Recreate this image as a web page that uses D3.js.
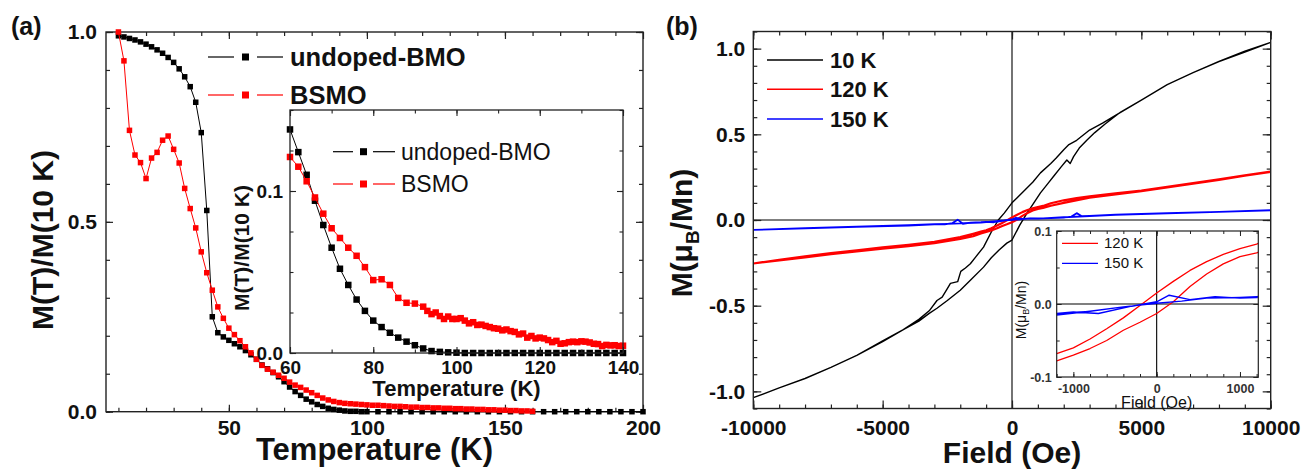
<!DOCTYPE html>
<html>
<head>
<meta charset="utf-8">
<script src="https://cdn.jsdelivr.net/npm/d3@7"></script>
<style>
  body { margin: 0; background: #fff; }
  svg { display: block; }
</style>
</head>
<body>
<svg id="main-svg"></svg>
<script>
// ---- DATA: panel (a), main plot ----
const tempBMO = [10, 12, 14, 16, 18, 20, 22, 24, 26, 28, 30, 32, 34, 36, 38, 40, 42, 44, 46, 48, 50, 52, 54, 56, 58, 60,
  62, 64, 66, 68, 70, 72, 74, 76, 78, 80, 82, 84, 86, 88, 90, 92, 94, 96, 98, 100,
  104, 108, 112, 116, 120, 124, 128, 132, 136, 140, 144, 148, 152, 156, 160, 164, 168, 172, 176, 180, 184, 188, 192, 196, 200]
const magBMO = [0.99, 0.987, 0.983, 0.979, 0.974, 0.968, 0.961, 0.953, 0.944, 0.933, 0.92, 0.903, 0.882, 0.856, 0.815, 0.735, 0.53, 0.25, 0.208, 0.197, 0.188, 0.179, 0.171, 0.161, 0.15, 0.138,
  0.123, 0.113, 0.103, 0.092, 0.079, 0.065, 0.053, 0.043, 0.033, 0.026, 0.019, 0.014, 0.009, 0.006, 0.004, 0.002, 0.001, 0.001, 0, 0,
  0, 0, 0, 0, 0, 0, 0, 0, 0, 0, 0, 0, 0, 0, 0, 0, 0, 0, 0, 0, 0, 0, 0, 0, 0]
const tempBSMO = [10, 12, 14, 16, 18, 20, 22, 24, 26, 28, 30, 32, 34, 36, 38, 40, 42, 44, 46, 48, 50, 52, 54, 56, 58, 60,
  62, 64, 66, 68, 70, 72, 74, 76, 78, 80, 82, 84, 86, 88, 90, 92, 94, 96, 98, 100, 102, 104, 106, 108, 110,
  112, 114, 116, 118, 120, 122, 124, 126, 128, 130, 132, 134, 136, 138, 140, 142, 144, 146, 148, 150, 152, 154, 156, 158, 160]
const magBSMO = [1.0, 0.924, 0.741, 0.676, 0.656, 0.614, 0.668, 0.683, 0.715, 0.726, 0.691, 0.655, 0.588, 0.535, 0.484, 0.421, 0.366, 0.32, 0.276, 0.246, 0.22, 0.203, 0.187, 0.171, 0.155, 0.138,
  0.122, 0.112, 0.104, 0.096, 0.088, 0.078, 0.07, 0.064, 0.057, 0.05, 0.043, 0.036, 0.031, 0.027, 0.024, 0.022, 0.021, 0.02, 0.019, 0.018, 0.017, 0.017, 0.016, 0.015, 0.014,
  0.014, 0.013, 0.012, 0.012, 0.011, 0.011, 0.010, 0.010, 0.009, 0.009, 0.008, 0.008, 0.007, 0.007, 0.006, 0.006, 0.005, 0.005, 0.004, 0.004, 0.003, 0.003, 0.002, 0.002, 0.001]

// ---- DATA: panel (a), inset ----
const insetTempBMO = [60, 62, 64, 66, 68, 70, 72, 74, 76, 78, 80, 82, 84, 86, 88, 90, 92, 94, 96, 98, 100,
  102, 104, 106, 108, 110, 112, 114, 116, 118, 120, 122, 124, 126, 128, 130, 132, 134, 136, 138, 140]
const insetMagBMO = [0.138, 0.124, 0.11, 0.094, 0.079, 0.065, 0.052, 0.042, 0.033, 0.026, 0.02, 0.016, 0.0125, 0.0095, 0.007, 0.0048, 0.0028, 0.0012, 0.0007, 0.0004, 0.0002,
  0, 0, 0, 0, 0, 0, 0, 0, 0, 0, 0, 0, 0, 0, 0, 0, 0, 0, 0, 0]
const insetTempBSMO = [60, 62, 64, 66, 68, 70, 72, 74, 76, 78, 80, 82, 84, 86, 88, 90,
  92, 93, 94, 95, 96, 97, 98, 99, 100, 101, 102, 103, 104, 105, 106, 107, 108, 109, 110, 111, 112, 113, 114, 115, 116,
  117, 118, 119, 120, 121, 122, 123, 124, 125, 126, 127, 128, 129, 130, 131, 132, 133, 134, 135, 136, 137, 138, 139, 140]
const insetMagBSMO = [0.121, 0.115, 0.106, 0.096, 0.086, 0.077, 0.071, 0.065, 0.06, 0.053, 0.045, 0.0455, 0.042, 0.034, 0.031, 0.0305,
  0.0286, 0.026, 0.024, 0.025, 0.0228, 0.021, 0.0225, 0.021, 0.021, 0.0215, 0.02, 0.0183, 0.019, 0.0173, 0.0175, 0.0167, 0.016, 0.0153, 0.015, 0.014, 0.0145, 0.0135, 0.013, 0.0115, 0.012,
  0.0095, 0.0105, 0.009, 0.0095, 0.009, 0.008, 0.0067, 0.0075, 0.0057, 0.006, 0.0067, 0.007, 0.0067, 0.0072, 0.007, 0.0065, 0.0057, 0.0055, 0.0043, 0.005, 0.0047, 0.0048, 0.0043, 0.0045]

// ---- DATA: panel (b), hysteresis loops (field sweep down, then up) ----
const field10K = [10000, 9000, 8000, 7000, 6000, 5000, 4000, 3500, 3000, 2500, 2200, 2000, 1700, 1500, 1100, 800, 500, 200, 0, -300, -530,
  -800, -1100, -1400, -1610, -1800, -1980, -2100, -2380, -2500, -2700, -2900, -3200, -3600, -4200, -5000, -6000, -7000, -8000, -9000, -10000,
  -9000, -8000, -7000, -6000, -5000, -4200, -3600, -3200, -2900, -2500, -2000, -1600, -1100, -800, -500, -200, 0, 300, 580,
  800, 1100, 1400, 1610, 1900, 2120, 2250, 2380, 2600, 2900, 3200, 3600, 4200, 5000, 6000, 7000, 8000, 9000, 10000]
const moment10K = [1.037, 0.985, 0.925, 0.86, 0.79, 0.70, 0.61, 0.565, 0.525, 0.465, 0.44, 0.41, 0.36, 0.33, 0.275, 0.22, 0.175, 0.13, 0.10, 0.04, 0.0,
  -0.07, -0.158, -0.215, -0.255, -0.28, -0.30, -0.36, -0.37, -0.40, -0.45, -0.47, -0.53, -0.58, -0.64, -0.71, -0.79, -0.86, -0.925, -0.98, -1.037,
  -0.98, -0.925, -0.86, -0.79, -0.705, -0.64, -0.59, -0.545, -0.515, -0.47, -0.41, -0.35, -0.275, -0.22, -0.175, -0.135, -0.117, -0.03, 0.04,
  0.09, 0.158, 0.215, 0.255, 0.31, 0.35, 0.33, 0.37, 0.42, 0.467, 0.51, 0.56, 0.63, 0.70, 0.79, 0.86, 0.925, 0.98, 1.037]

const field120K = [10000, 9000, 8000, 7000, 6000, 5000, 4000, 3000, 2500, 2000, 1500, 1200, 1000, 800, 600, 400, 200, 0,
  -200, -400, -600, -800, -1000, -1200, -1500, -2000, -3000, -4000, -5000, -6000, -7000, -8000, -9000, -10000,
  -9000, -8000, -7000, -6000, -5000, -4000, -3000, -2000, -1500, -1200, -1000, -800, -600, -400, -200, 0,
  200, 400, 600, 800, 1000, 1200, 1500, 2000, 3000, 4000, 5000, 6000, 7000, 8000, 9000, 10000]
const moment120K = [0.283, 0.26, 0.237, 0.215, 0.193, 0.172, 0.155, 0.138, 0.128, 0.115, 0.098, 0.082, 0.076, 0.068, 0.058, 0.046, 0.031, 0.015,
  -0.002, -0.019, -0.034, -0.048, -0.06, -0.068, -0.08, -0.1, -0.128, -0.145, -0.16, -0.177, -0.193, -0.212, -0.232, -0.254,
  -0.236, -0.218, -0.2, -0.183, -0.167, -0.152, -0.135, -0.11, -0.094, -0.078, -0.07, -0.061, -0.05, -0.036, -0.025, -0.013,
  0.003, 0.024, 0.041, 0.055, 0.065, 0.07, 0.083, 0.1, 0.13, 0.15, 0.168, 0.19, 0.212, 0.234, 0.258, 0.281]

const field150K = [10000, 8000, 6000, 4000, 3000, 2700, 2500, 2300, 2000, 1500, 1200, 1000, 700, 400, 150, 0,
  -300, -700, -1000, -1200, -1600, -1900, -2100, -2300, -2600, -3000, -4000, -6000, -8000, -10000,
  -8000, -6000, -4000, -3000, -2000, -1500, -1200, -800, -400, 0, 300, 600, 1000, 1200, 2000, 3000, 4000, 6000, 8000, 10000]
const moment150K = [0.056, 0.048, 0.04, 0.031, 0.024, 0.022, 0.04, 0.02, 0.014, 0.011, 0.009, 0.008, 0.01, 0.006, 0.012, 0.003,
  -0.003, -0.013, -0.011, -0.013, -0.015, -0.022, 0.002, -0.018, -0.026, -0.024, -0.03, -0.039, -0.048, -0.058,
  -0.049, -0.04, -0.032, -0.026, -0.02, -0.016, -0.015, -0.01, -0.004, 0.001, 0.004, 0.008, 0.009, 0.01, 0.016, 0.023, 0.03, 0.039, 0.048, 0.057]

// tick labels
const tempTicksA = [50, 100, 150, 200]
const magTicksA = [0, 0.5, 1.0]
const tempTicksInsetA = [60, 80, 100, 120, 140]
const magTicksInsetA = [0, 0.1]
const fieldTicksB = [-10000, -5000, 0, 5000, 10000]
const momentTicksB = [-1.0, -0.5, 0, 0.5, 1.0]
const fieldTicksInsetB = [-1000, 0, 1000]
const momentTicksInsetB = [-0.1, 0, 0.1]

// ---- LAYOUT ----
const CANVAS_WIDTH = 1303
const CANVAS_HEIGHT = 469
const FONT = "'Liberation Sans', Arial, Helvetica, sans-serif"
const FRAME_COLOR = "#222"
const RED = "#ff0000"
const BLUE = "#0000ff"

const A = { left: 106, right: 643, top: 32, bottom: 411.7 }
const A_IN = { left: 290, right: 623, top: 110, bottom: 353 }
const B = { left: 753.3, right: 1270.7, top: 31.5, bottom: 408.5 }
const B_IN = { left: 1056.7, right: 1258.3, top: 231, bottom: 377 }

const svg = d3.select("#main-svg")
  .attr("width", CANVAS_WIDTH)
  .attr("height", CANVAS_HEIGHT)
  .style("font-family", FONT)

svg.append("rect").attr("width", CANVAS_WIDTH).attr("height", CANVAS_HEIGHT).attr("fill", "#fff")

function drawFrame(x, y, o) {
  const [xl, xr] = x.range()
  const [yb, yt] = y.range()
  const g = svg.append("g")
  const mk = (axisFn, scale, vals, size, fmt, pad, tr) => {
    const ag = g.append("g")
      .attr("transform", tr)
      .call(axisFn(scale).tickValues(vals).tickSize(-size).tickSizeOuter(0).tickPadding(pad).tickFormat(fmt || (() => "")))
    ag.select(".domain").remove()
    return ag
  }
  mk(d3.axisBottom, x, o.xMinor, o.minorLen, null, 0, `translate(0,${yb})`)
  mk(d3.axisBottom, x, o.xMajor, o.majorLen, o.xFmt, o.xPad, `translate(0,${yb})`)
  mk(d3.axisTop, x, o.xMinor, o.minorLen, null, 0, `translate(0,${yt})`)
  mk(d3.axisTop, x, o.xMajor, o.majorLen, null, 0, `translate(0,${yt})`)
  mk(d3.axisLeft, y, o.yMinor, o.minorLen, null, 0, `translate(${xl},0)`)
  mk(d3.axisLeft, y, o.yMajor, o.majorLen, o.yFmt, o.yPad, `translate(${xl},0)`)
  mk(d3.axisRight, y, o.yMinor, o.minorLen, null, 0, `translate(${xr},0)`)
  mk(d3.axisRight, y, o.yMajor, o.majorLen, null, 0, `translate(${xr},0)`)

  g.selectAll(".tick line").attr("stroke", FRAME_COLOR).attr("stroke-width", o.tickWidth)
  g.selectAll("text")
    .attr("fill", o.labelColor || "#111")
    .style("font-family", FONT)
    .style("font-size", o.labelSize + "px")
    .style("font-weight", o.labelWeight)

  g.append("rect")
    .attr("x", xl).attr("y", yt)
    .attr("width", xr - xl).attr("height", yb - yt)
    .attr("fill", "none")
    .attr("stroke", FRAME_COLOR)
    .attr("stroke-width", o.frameWidth)
  return g
}

function addText(x, y, str, size, weight, anchor = "start", rotate = 0) {
  return svg.append("text")
    .attr("transform", `translate(${x},${y}) rotate(${rotate})`)
    .attr("text-anchor", anchor)
    .style("font-size", size + "px")
    .style("font-weight", weight)
    .attr("fill", "#111")
    .text(str)
}

function addSquares(x, y, xs, ys, color, size) {
  svg.append("g")
    .selectAll("rect")
    .data(xs.map((d, i) => [d, ys[i]]))
    .join("rect")
    .attr("x", d => x(d[0]) - size / 2)
    .attr("y", d => y(d[1]) - size / 2)
    .attr("width", size)
    .attr("height", size)
    .attr("fill", color)
}

function addLine(x, y, xs, ys, color, width, clip) {
  const line = d3.line().x(d => x(d[0])).y(d => y(d[1]))
  const p = svg.append("path")
    .datum(xs.map((d, i) => [d, ys[i]]))
    .attr("d", line)
    .attr("fill", "none")
    .attr("stroke", color)
    .attr("stroke-width", width)
    .attr("stroke-linejoin", "round")
  if (clip) p.attr("clip-path", `url(#${clip})`)
  return p
}

function addClip(id, r) {
  svg.append("clipPath").attr("id", id)
    .append("rect")
    .attr("x", r.left).attr("y", r.top)
    .attr("width", r.right - r.left).attr("height", r.bottom - r.top)
}

// ================= PANEL (a) =================
const xA = d3.scaleLinear().domain([5.5, 200]).range([A.left, A.right])
const yA = d3.scaleLinear().domain([0, 1.0]).range([A.bottom, A.top])

drawFrame(xA, yA, {
  xMajor: tempTicksA, xMinor: d3.range(10, 200, 10),
  yMajor: magTicksA, yMinor: d3.range(0, 1.0001, 0.1),
  majorLen: 7, minorLen: 4, tickWidth: 1.2, frameWidth: 1.4,
  xFmt: d => String(d), yFmt: d => d.toFixed(1),
  xPad: 8, yPad: 9, labelSize: 21, labelWeight: "bold"
})

addLine(xA, yA, tempBMO, magBMO, "#000", 1)
addSquares(xA, yA, tempBMO, magBMO, "#000", 5.5)
addLine(xA, yA, tempBSMO, magBSMO, RED, 1)
addSquares(xA, yA, tempBSMO, magBSMO, RED, 5.5)

addText(11, 35, "(a)", 25, "bold")
addText(42, 240, "M(T)/M(10 K)", 30, "bold", "middle", -90).attr("dy", "0.35em")
addText((A.left + A.right) / 2, 460, "Temperature (K)", 31, "bold", "middle")

// legend (a)
const legendA = [
  { label: "undoped-BMO", color: "#000", y: 57 },
  { label: "BSMO", color: RED, y: 95 }
]
legendA.forEach(d => {
  svg.append("line").attr("x1", 208).attr("x2", 234).attr("y1", d.y).attr("y2", d.y).attr("stroke", d.color).attr("stroke-width", 1.2)
  svg.append("line").attr("x1", 257).attr("x2", 283).attr("y1", d.y).attr("y2", d.y).attr("stroke", d.color).attr("stroke-width", 1.2)
  svg.append("rect").attr("x", 242).attr("y", d.y - 3.5).attr("width", 7).attr("height", 7).attr("fill", d.color)
  addText(290, d.y + 9, d.label, 25.5, "bold")
})

// inset (a)
svg.append("rect").attr("x", A_IN.left).attr("y", A_IN.top)
  .attr("width", A_IN.right - A_IN.left).attr("height", A_IN.bottom - A_IN.top).attr("fill", "#fff")
const xAi = d3.scaleLinear().domain([60, 140]).range([A_IN.left, A_IN.right])
const yAi = d3.scaleLinear().domain([0, 0.15]).range([A_IN.bottom, A_IN.top])

addLine(xAi, yAi, insetTempBMO, insetMagBMO, "#000", 1)
addSquares(xAi, yAi, insetTempBMO, insetMagBMO, "#000", 6.5)
addLine(xAi, yAi, insetTempBSMO, insetMagBSMO, RED, 1)
addSquares(xAi, yAi, insetTempBSMO, insetMagBSMO, RED, 6.5)

drawFrame(xAi, yAi, {
  xMajor: tempTicksInsetA, xMinor: d3.range(60, 141, 10),
  yMajor: magTicksInsetA, yMinor: d3.range(0, 0.1501, 0.025),
  majorLen: 6, minorLen: 3.5, tickWidth: 1.1, frameWidth: 1.3,
  xFmt: d => String(d), yFmt: d => d.toFixed(1),
  xPad: 8, yPad: 7, labelSize: 19, labelWeight: "bold"
})

addText(242, 248, "M(T)/M(10 K)", 21, "bold", "middle", -90).attr("dy", "0.35em")
addText((A_IN.left + A_IN.right) / 2, 396, "Temperature (K)", 22, "bold", "middle")

const legendAi = [
  { label: "undoped-BMO", color: "#000", y: 151.7 },
  { label: "BSMO", color: RED, y: 184 }
]
legendAi.forEach(d => {
  svg.append("line").attr("x1", 333).attr("x2", 353).attr("y1", d.y).attr("y2", d.y).attr("stroke", d.color).attr("stroke-width", 1.2)
  svg.append("line").attr("x1", 373).attr("x2", 395).attr("y1", d.y).attr("y2", d.y).attr("stroke", d.color).attr("stroke-width", 1.2)
  svg.append("rect").attr("x", 360).attr("y", d.y - 3.5).attr("width", 7).attr("height", 7).attr("fill", d.color)
  addText(401, d.y + 8, d.label, 23, "normal")
})

// ================= PANEL (b) =================
const xB = d3.scaleLinear().domain([-10000, 10000]).range([B.left, B.right])
const yB = d3.scaleLinear().domain([-1.1, 1.1]).range([B.bottom, B.top])
addClip("clip-b", B)

svg.append("line").attr("x1", xB(0)).attr("x2", xB(0)).attr("y1", B.top).attr("y2", B.bottom).attr("stroke", "#000").attr("stroke-width", 1.1)
svg.append("line").attr("x1", B.left).attr("x2", B.right).attr("y1", yB(0)).attr("y2", yB(0)).attr("stroke", "#000").attr("stroke-width", 1.1)

addLine(xB, yB, field10K, moment10K, "#000", 1.4, "clip-b")
addLine(xB, yB, field120K, moment120K, RED, 2.2, "clip-b")
addLine(xB, yB, field150K, moment150K, BLUE, 1.8, "clip-b")

drawFrame(xB, yB, {
  xMajor: fieldTicksB, xMinor: d3.range(-10000, 10001, 1000),
  yMajor: momentTicksB, yMinor: d3.range(-1.1, 1.1001, 0.1),
  majorLen: 8, minorLen: 4, tickWidth: 1.2, frameWidth: 1.4,
  xFmt: d => String(d), yFmt: d => d.toFixed(1),
  xPad: 12, yPad: 8, labelSize: 21, labelWeight: "bold"
})

addText(666, 35, "(b)", 25, "bold")
const yLabB = addText(681, 233, "", 30, "bold", "middle", -90).attr("dy", "0.35em")
yLabB.append("tspan").text("M(μ")
yLabB.append("tspan").text("B").style("font-size", "19px").attr("dy", 7)
yLabB.append("tspan").text("/Mn)").attr("dy", -7)
addText((B.left + B.right) / 2, 463, "Field (Oe)", 30, "bold", "middle")

const legendB = [
  { label: "10 K", color: "#000", y: 60 },
  { label: "120 K", color: RED, y: 89.3 },
  { label: "150 K", color: BLUE, y: 119 }
]
legendB.forEach(d => {
  svg.append("line").attr("x1", 767).attr("x2", 823).attr("y1", d.y).attr("y2", d.y).attr("stroke", d.color).attr("stroke-width", 1.5)
  addText(830, d.y + 8, d.label, 22, "bold")
})

// inset (b)
svg.append("rect").attr("x", B_IN.left).attr("y", B_IN.top)
  .attr("width", B_IN.right - B_IN.left).attr("height", B_IN.bottom - B_IN.top).attr("fill", "#fff")
const xBi = d3.scaleLinear().domain([-1200, 1220]).range([B_IN.left, B_IN.right])
const yBi = d3.scaleLinear().domain([-0.1, 0.1]).range([B_IN.bottom, B_IN.top])
addClip("clip-bi", B_IN)

svg.append("line").attr("x1", xBi(0)).attr("x2", xBi(0)).attr("y1", B_IN.top).attr("y2", B_IN.bottom).attr("stroke", "#000").attr("stroke-width", 1.1)
svg.append("line").attr("x1", B_IN.left).attr("x2", B_IN.right).attr("y1", yBi(0)).attr("y2", yBi(0)).attr("stroke", "#000").attr("stroke-width", 1.1)

addLine(xBi, yBi, field120K, moment120K, RED, 1.3, "clip-bi")
addLine(xBi, yBi, field150K, moment150K, BLUE, 1.4, "clip-bi")

drawFrame(xBi, yBi, {
  xMajor: fieldTicksInsetB, xMinor: d3.range(-1200, 1201, 200),
  yMajor: momentTicksInsetB, yMinor: d3.range(-0.1, 0.1001, 0.05),
  majorLen: 5, minorLen: 3, tickWidth: 1, frameWidth: 1.2,
  xFmt: d => String(d), yFmt: d => d.toFixed(1),
  xPad: 7, yPad: 5, labelSize: 12.5, labelWeight: "bold", labelColor: "#333"
})

const yLabBi = addText(1021, 310, "", 14, "normal", "middle", -90).attr("dy", "0.35em")
yLabBi.append("tspan").text("M(μ")
yLabBi.append("tspan").text("B").style("font-size", "9px").attr("dy", 3)
yLabBi.append("tspan").text("/Mn)").attr("dy", -3)
addText(xBi(0), 408, "Field (Oe)", 16, "normal", "middle")

const legendBi = [
  { label: "120 K", color: RED, y: 243.3 },
  { label: "150 K", color: BLUE, y: 263.3 }
]
legendBi.forEach(d => {
  svg.append("line").attr("x1", 1062).attr("x2", 1098).attr("y1", d.y).attr("y2", d.y).attr("stroke", d.color).attr("stroke-width", 1.2)
  addText(1104, d.y + 5, d.label, 15, "normal")
})
</script>
</body>
</html>
